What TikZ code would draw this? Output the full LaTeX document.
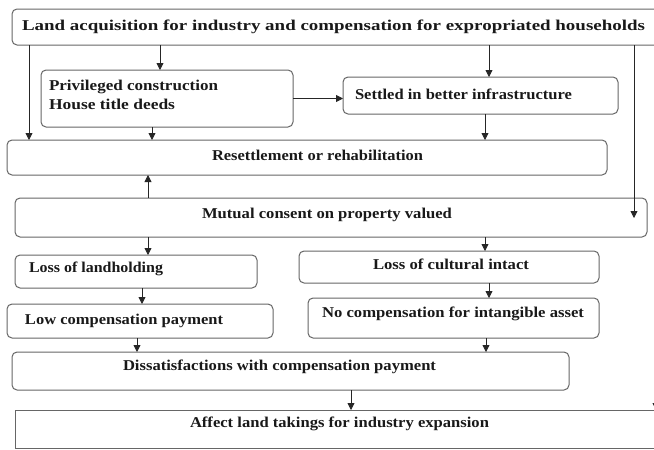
\documentclass[tikz,border=0pt]{standalone}
\usepackage{fontspec}
\setmainfont{Liberation Serif}
\usepackage{graphicx}
\usetikzlibrary{arrows.meta}
\newcommand\fitw[2]{\resizebox{#1pt}{\height}{#2}}
\newcommand\mkbox[6][rbox]{%
  \pgfmathsetmacro\mkW{#5-#3}\pgfmathsetmacro\mkH{#6-#4}%
  \pgfmathsetmacro\mkX{(#3+#5)/2}\pgfmathsetmacro\mkY{(#4+#6)/2}%
  \node[#1,minimum width=\mkW pt,minimum height=\mkH pt] (#2) at (\mkX,\mkY) {};}
\begin{document}
\begin{tikzpicture}[x=1pt,y=-1pt,
  rbox/.style={draw=black!60, line width=1pt, rounded corners=5pt, inner sep=0pt, outer sep=0pt},
  sbox/.style={draw=black!60, line width=1pt, inner sep=0pt, outer sep=0pt},
  arr/.style={-{Triangle[length=7pt,width=7pt]}, line width=0.8pt, draw=black!85},
  txt/.style={inner sep=0pt, outer sep=0pt, text=black!90, font=\bfseries\fontsize{15}{17}\selectfont}]
\useasboundingbox (0,0) rectangle (654,450);
\clip (0,0) rectangle (654,450);
\fill[white] (0,0) rectangle (654,450);
% boxes
\mkbox{top}{12}{9}{690}{45}
\mkbox{priv}{41}{70}{293}{127}
\mkbox{sett}{343}{77}{618}{114}
\mkbox{reset}{7}{140}{607}{175}
\mkbox{mutual}{15}{198}{647}{237}
\mkbox{lossland}{15}{255}{257}{288}
\mkbox{losscult}{299}{251}{599}{283}
\mkbox{lowcomp}{7}{304}{273}{338}
\mkbox{nocomp}{308}{298}{599}{338}
\mkbox{dissat}{12}{352}{569}{390}
\mkbox[sbox]{affect}{15}{410}{690}{448}
% texts
\node[txt, anchor=mid west] (ttop) at (22,28) {\fitw{623}{Land acquisition for industry and compensation for expropriated households}};
\node[txt, anchor=mid west] (tpriv1) at (49,88) {\fitw{169}{Privileged construction}};
\node[txt, anchor=mid west] (tpriv2) at (49,107) {\fitw{126}{House title deeds}};
\node[txt, anchor=mid west] (tsett) at (355,97) {\fitw{217}{Settled in better infrastructure}};
\node[txt, anchor=mid west] (treset) at (212,158) {\fitw{211}{Resettlement or rehabilitation}};
\node[txt, anchor=mid west] (tmutual) at (202,216) {\fitw{250}{Mutual consent on property valued}};
\node[txt, anchor=mid west] (tlossland) at (29,270) {\fitw{134}{Loss of landholding}};
\node[txt, anchor=mid west] (tlosscult) at (373,267) {\fitw{156}{Loss of cultural intact}};
\node[txt, anchor=mid west] (tlowcomp) at (25,322) {\fitw{198}{Low compensation payment}};
\node[txt, anchor=mid west] (tnocomp) at (322,315) {\fitw{262}{No compensation for intangible asset}};
\node[txt, anchor=mid west] (tdissat) at (123,368) {\fitw{313}{Dissatisfactions with compensation payment}};
\node[txt, anchor=mid west] (taffect) at (190,425) {\fitw{299}{Affect land takings for industry expansion}};
% connectors
\coordinate (mtip) at (634,218);
\coordinate (offs) at (656,392);
\draw[arr] (top.south -| 29,0) -- (reset.north -| 29,0);
\draw[arr] (top.south -| 160,0) -- (priv.north -| 160,0);
\draw[arr] (top.south -| 489,0) -- (sett.north -| 489,0);
\draw[arr] (top.south -| mtip) -- (mtip);
\draw[arr] (priv.east) -- (priv.east -| sett.west);
\draw[arr] (priv.south -| 152,0) -- (reset.north -| 152,0);
\draw[arr] (sett.south -| 485,0) -- (reset.north -| 485,0);
\draw[arr] (mutual.north -| 148,0) -- (reset.south -| 148,0);
\draw[arr] (mutual.south -| 148,0) -- (lossland.north -| 148,0);
\draw[arr] (mutual.south -| 485,0) -- (losscult.north -| 485,0);
\draw[arr] (lossland.south -| 142,0) -- (lowcomp.north -| 142,0);
\draw[arr] (losscult.south -| 489,0) -- (nocomp.north -| 489,0);
\draw[arr] (lowcomp.south -| 137,0) -- (dissat.north -| 137,0);
\draw[arr] (nocomp.south -| 486,0) -- (dissat.north -| 486,0);
\draw[arr] (dissat.south -| 351,0) -- (affect.north -| 351,0);
\draw[arr] (offs) -- (offs |- affect.north);
\end{tikzpicture}
\end{document}
